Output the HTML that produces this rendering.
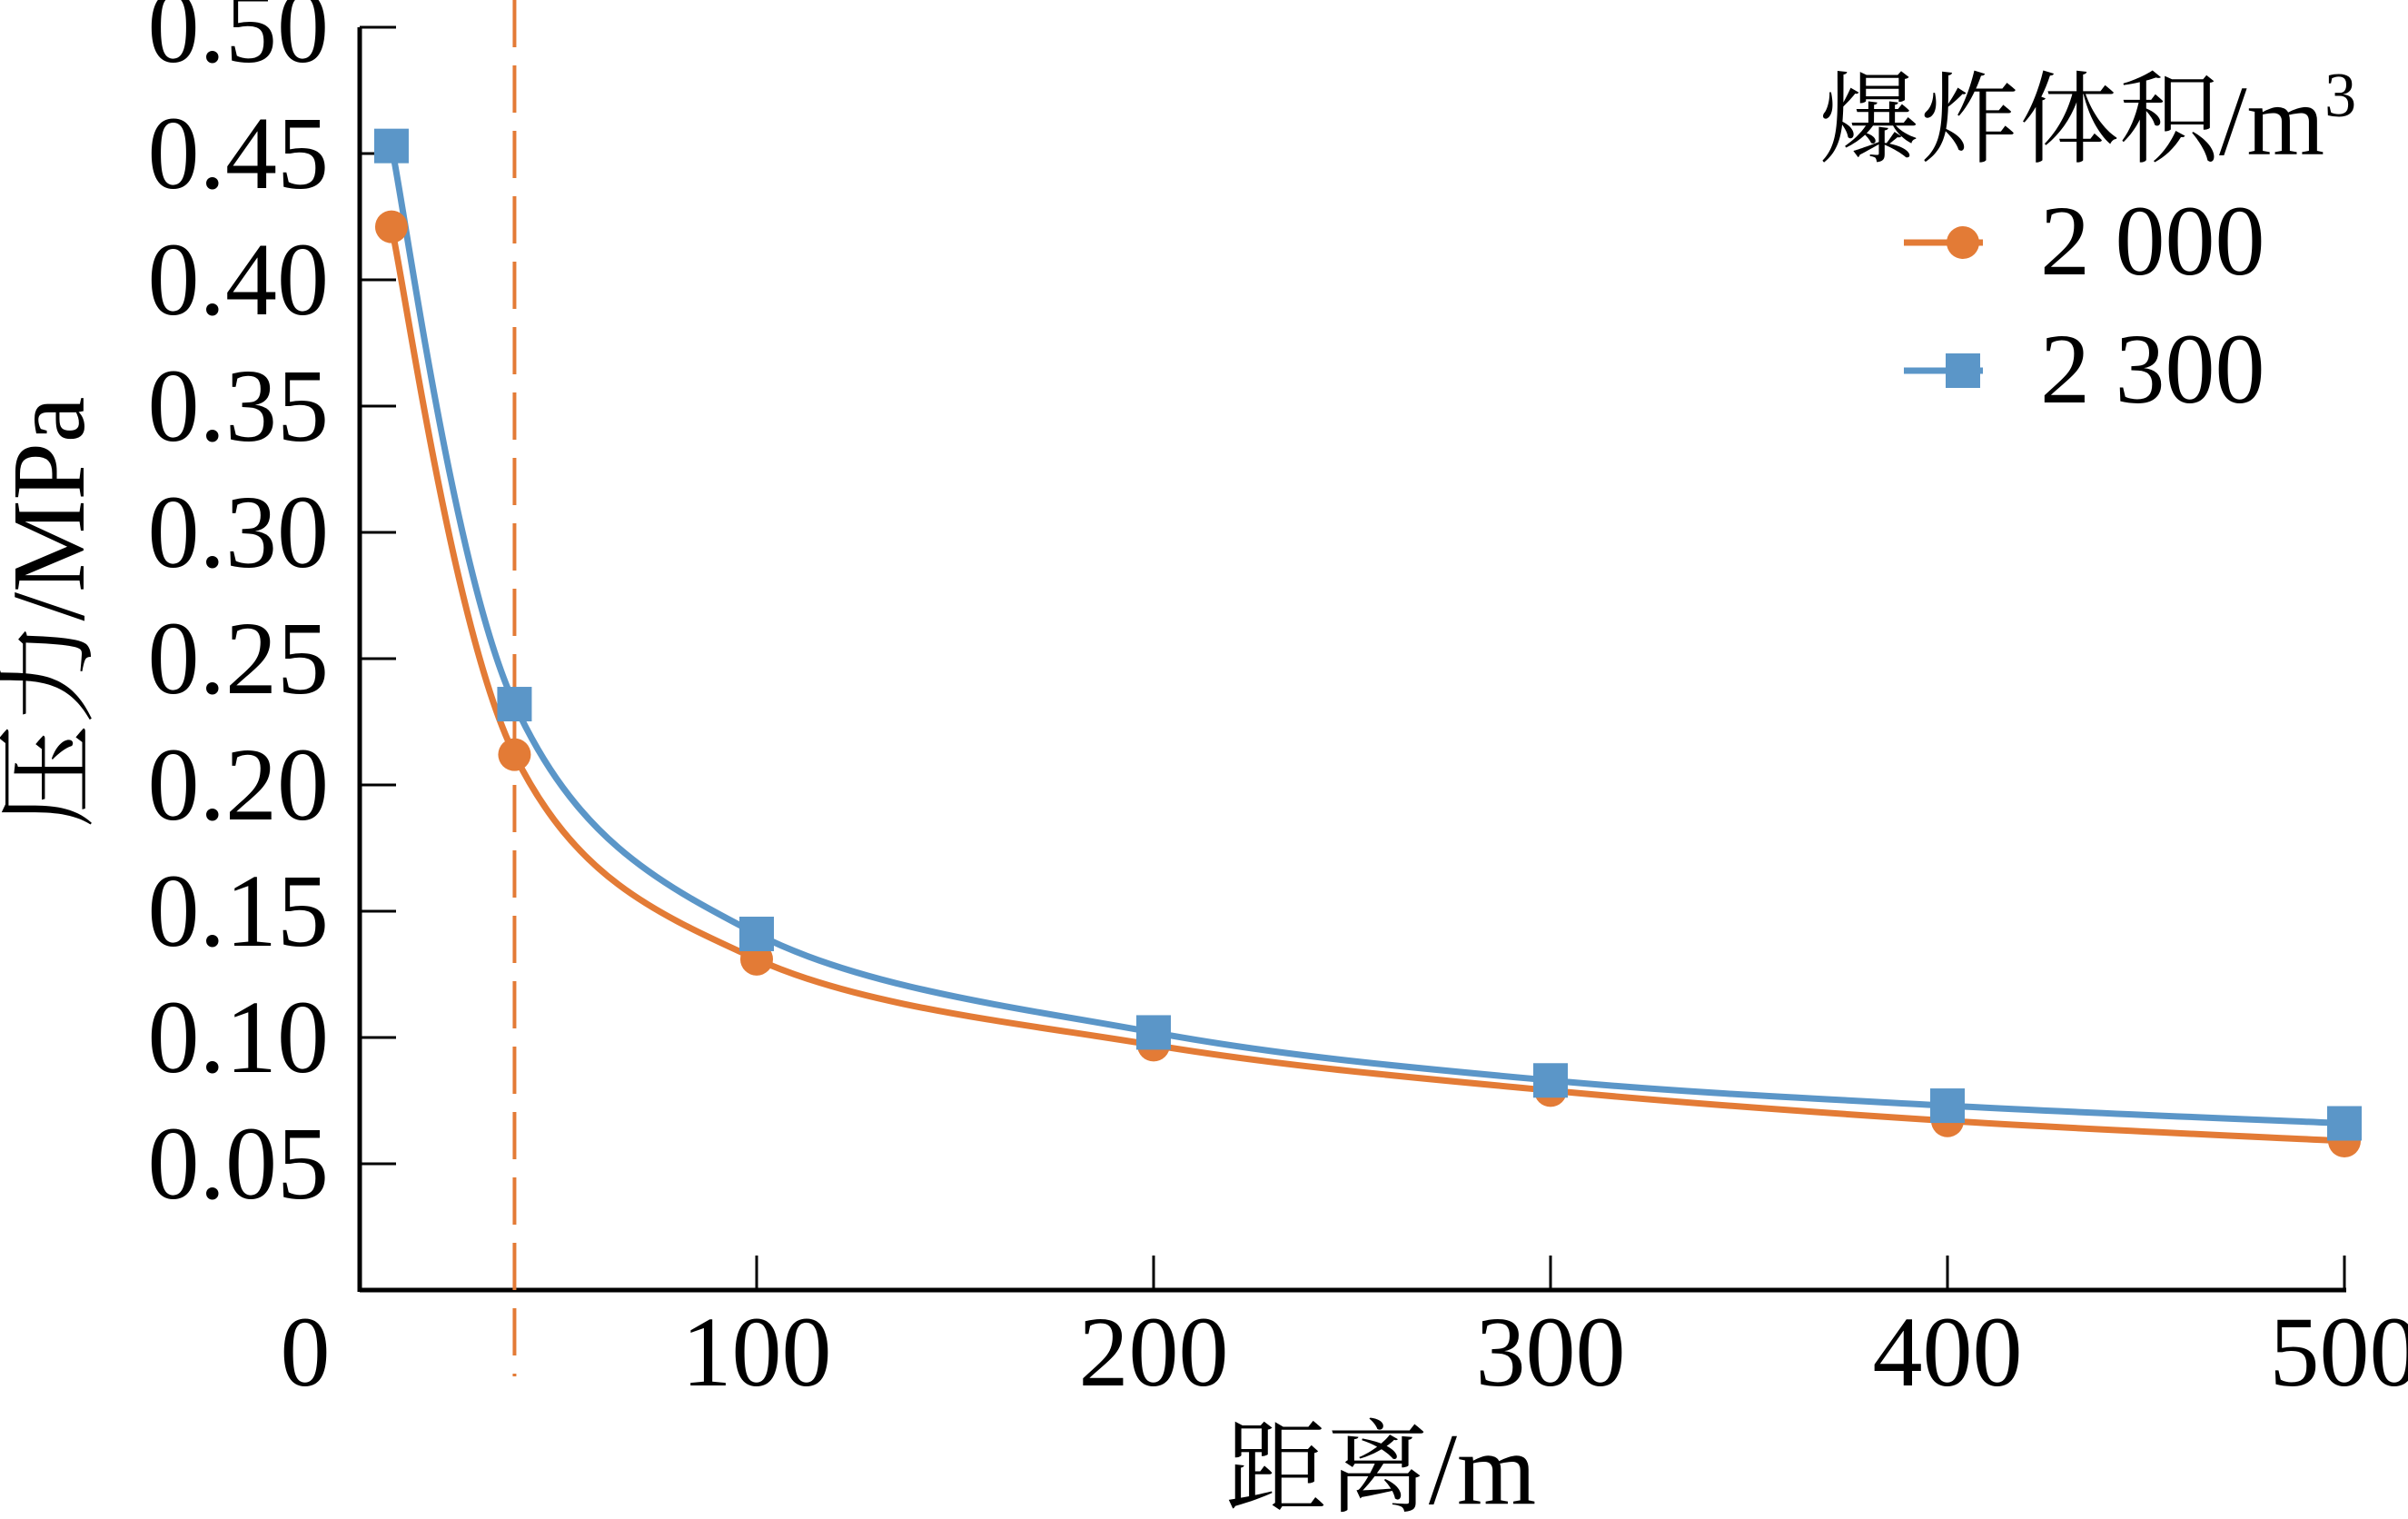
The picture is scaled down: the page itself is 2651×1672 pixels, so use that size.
<!DOCTYPE html>
<html><head><meta charset="utf-8"><style>
html,body{margin:0;padding:0;background:#fff;}
svg{display:block;}
text{font-family:"Liberation Serif","Noto Serif CJK SC",serif;fill:#000;}
</style></head><body>
<svg id="chart" width="2651" height="1672" viewBox="0 0 2651 1672" xmlns="http://www.w3.org/2000/svg">
<g id="axes"></g>
<g id="series"></g>
<g id="legend"></g>
</svg>
<script>
const distances = [8, 39, 100, 200, 300, 400, 500];
const pressure2000 = [0.421, 0.212, 0.131, 0.097, 0.079, 0.067, 0.059];
const pressure2300 = [0.453, 0.232, 0.141, 0.102, 0.083, 0.073, 0.066];
const xTicks = [100, 200, 300, 400, 500];
const yTicks = [0.05, 0.10, 0.15, 0.20, 0.25, 0.30, 0.35, 0.40, 0.45, 0.50];
const yTickLabels = ["0.05","0.10","0.15","0.20","0.25","0.30","0.35","0.40","0.45","0.50"];
const dashedX = 39;

const NS = "http://www.w3.org/2000/svg";
const X0 = 396, X1 = 2581, Y0 = 1420, Y1 = 30;
function xs(v){ return X0 + (v/500)*(X1-X0); }
function ys(v){ return Y0 - (v/0.5)*(Y0-Y1); }
function mk(tag, attrs, parent){
  const e = document.createElementNS(NS, tag);
  for (const k in attrs) e.setAttribute(k, attrs[k]);
  parent.appendChild(e); return e;
}
const axes = document.getElementById('axes');
const series = document.getElementById('series');
const legend = document.getElementById('legend');

let a = mk('line',{x1:X0,y1:Y0,x2:X1+2,y2:Y0,stroke:'#000','stroke-width':5},axes);


a = mk('line',{x1:X0,y1:Y0+2,x2:X0,y2:Y1,stroke:'#000','stroke-width':5},axes);



xTicks.forEach(t=>{
  const l = mk('line',{x1:xs(t),y1:Y0,x2:xs(t),y2:Y0-38,stroke:'#000','stroke-width':3},axes);
  
  
  const tx = mk('text',{x:xs(t),y:1525,'font-size':110,'text-anchor':'middle'},axes);
  tx.textContent = String(t);
  
  
});
let z = mk('text',{x:336,y:1525,'font-size':110,'text-anchor':'middle'},axes);
z.textContent = "0";



yTicks.forEach((t,i)=>{
  const l = mk('line',{x1:X0,y1:ys(t),x2:X0+40,y2:ys(t),stroke:'#000','stroke-width':3},axes);
  
  
  const tx = mk('text',{x:362,y:ys(t)+38,'font-size':114,'text-anchor':'end'},axes);
  tx.textContent = yTickLabels[i];
  
  
});
let xl = mk('text',{x:1520,y:1655,'font-size':112,'text-anchor':'middle'},axes);
xl.textContent = "距离/m";


let yl = mk('text',{x:0,y:0,'font-size':114,'text-anchor':'middle',transform:'translate(92,674) rotate(-90)'},axes);
yl.textContent = "压力/MPa";



let dl = mk('line',{x1:xs(dashedX),y1:0,x2:xs(dashedX),y2:1515,stroke:'#E37B36','stroke-width':4,'stroke-dasharray':'52 20'},series);



function curvePath(xv, yv){
  const p = xv.map((x,i)=>[xs(x), ys(yv[i])]);
  let d = `M${p[0][0]},${p[0][1]}`;
  for (let i=0;i<p.length-1;i++){
    const p0 = p[Math.max(0,i-1)], p1=p[i], p2=p[i+1], p3=p[Math.min(p.length-1,i+2)];
    const k = i===0 ? 10 : 6;
    const c1 = [p1[0]+(p2[0]-p0[0])/k, p1[1]+(p2[1]-p0[1])/k];
    const c2 = [p2[0]-(p3[0]-p1[0])/6, p2[1]-(p3[1]-p1[1])/6];
    d += ` C${c1[0]},${c1[1]} ${c2[0]},${c2[1]} ${p2[0]},${p2[1]}`;
  }
  return d;
}
const ORANGE = '#E37B36', BLUE = '#5B96C8';
let c1 = mk('path',{d:curvePath(distances,pressure2000),fill:'none',stroke:ORANGE,'stroke-width':7},series);


let c2 = mk('path',{d:curvePath(distances,pressure2300),fill:'none',stroke:BLUE,'stroke-width':7},series);


distances.forEach((x,i)=>{
  const c = mk('circle',{cx:xs(x),cy:ys(pressure2000[i]),r:18,fill:ORANGE},series);
  
  
});
distances.forEach((x,i)=>{
  const r = mk('rect',{x:xs(x)-19,y:ys(pressure2300[i])-19,width:38,height:38,fill:BLUE},series);
  
  
});

let lt = mk('text',{x:2003,y:170,'font-size':110},legend);
lt.innerHTML = '爆炸体积/m<tspan dy="-42" font-size="70">3</tspan>';


let l1 = mk('line',{x1:2096,y1:267,x2:2183,y2:267,stroke:ORANGE,'stroke-width':7},legend);


let m1 = mk('circle',{cx:2161,cy:267,r:18,fill:ORANGE},legend);


let t1 = mk('text',{x:2246,y:302,'font-size':110},legend);
t1.textContent = "2 000";


let l2 = mk('line',{x1:2096,y1:408,x2:2183,y2:408,stroke:BLUE,'stroke-width':7},legend);


let m2 = mk('rect',{x:2142,y:389,width:38,height:38,fill:BLUE},legend);


let t2 = mk('text',{x:2246,y:443,'font-size':110},legend);
t2.textContent = "2 300";


</script>
</body></html>
